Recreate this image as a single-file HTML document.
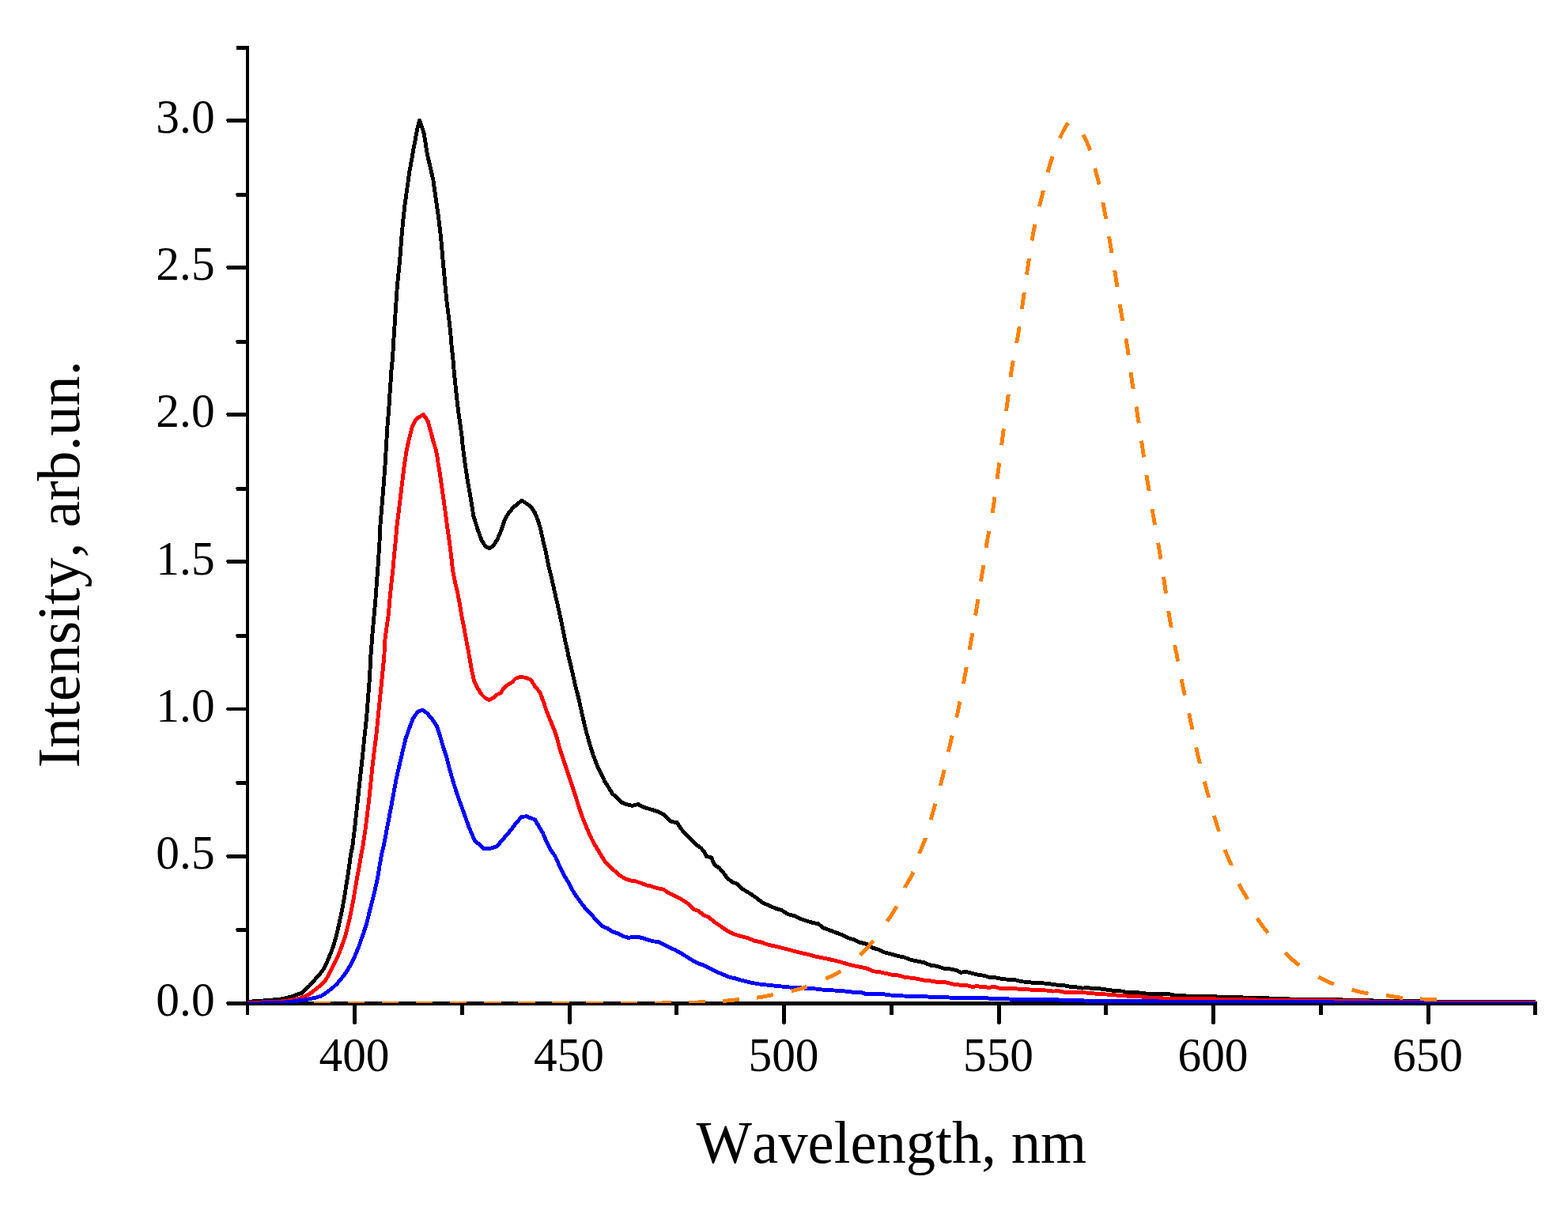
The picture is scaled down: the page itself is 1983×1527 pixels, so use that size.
<!DOCTYPE html>
<html lang="en"><head><meta charset="utf-8"><title>Intensity vs Wavelength</title>
<style>html,body{margin:0;padding:0;background:#fff;overflow:hidden}svg{display:block}text{font-family:"Liberation Serif","Times New Roman",serif;fill:#000;font-kerning:none}.tk{font-size:59.4px}.tt{font-size:74.7px}.c{fill:none;stroke-width:4.9;stroke-linejoin:round;stroke-linecap:butt}</style></head><body>
<svg width="1983" height="1527" viewBox="0 0 1983 1527" role="img" aria-label="Intensity versus wavelength spectra">
<rect width="1983" height="1527" fill="#fff"/>
<defs><clipPath id="cp"><rect x="313" y="40" width="1629" height="1229"/></clipPath></defs>
<g fill="#000" shape-rendering="crispEdges"><rect x="311" y="58" width="4" height="1226"/><rect x="311" y="1267" width="1633" height="5"/><rect x="287" y="1267" width="25" height="5"/><rect x="286" y="1268" width="1" height="2"/><rect x="287" y="1081" width="25" height="5"/><rect x="286" y="1082" width="1" height="2"/><rect x="287" y="895" width="25" height="4"/><rect x="286" y="896" width="1" height="2"/><rect x="287" y="708" width="25" height="5"/><rect x="286" y="709" width="1" height="2"/><rect x="287" y="522" width="25" height="5"/><rect x="286" y="523" width="1" height="2"/><rect x="287" y="336" width="25" height="5"/><rect x="286" y="337" width="1" height="2"/><rect x="287" y="150" width="25" height="5"/><rect x="286" y="151" width="1" height="2"/><rect x="299" y="1174" width="13" height="5"/><rect x="298" y="1175" width="1" height="2"/><rect x="299" y="988" width="13" height="5"/><rect x="298" y="989" width="1" height="2"/><rect x="299" y="802" width="13" height="5"/><rect x="298" y="803" width="1" height="2"/><rect x="299" y="616" width="13" height="5"/><rect x="298" y="617" width="1" height="2"/><rect x="299" y="430" width="13" height="5"/><rect x="298" y="431" width="1" height="2"/><rect x="299" y="244" width="13" height="5"/><rect x="298" y="245" width="1" height="2"/><rect x="299" y="58" width="13" height="5"/><rect x="446" y="1270" width="5" height="25"/><rect x="447" y="1295" width="3" height="1"/><rect x="582" y="1270" width="5" height="14"/><rect x="718" y="1270" width="5" height="25"/><rect x="719" y="1295" width="3" height="1"/><rect x="853" y="1270" width="5" height="14"/><rect x="989" y="1270" width="5" height="25"/><rect x="990" y="1295" width="3" height="1"/><rect x="1125" y="1270" width="5" height="14"/><rect x="1261" y="1270" width="5" height="25"/><rect x="1262" y="1295" width="3" height="1"/><rect x="1396" y="1270" width="5" height="14"/><rect x="1532" y="1270" width="5" height="25"/><rect x="1533" y="1295" width="3" height="1"/><rect x="1668" y="1270" width="5" height="14"/><rect x="1804" y="1270" width="5" height="25"/><rect x="1805" y="1295" width="3" height="1"/><rect x="1939" y="1270" width="5" height="14"/></g>
<g clip-path="url(#cp)" shape-rendering="crispEdges">
<polyline class="c" stroke="#000" points="312.6,1267.4 329.7,1266.2 344.1,1265.1 354.6,1264.0 362.4,1262.5 370.3,1260.3 375.6,1258.3 381.5,1256.3 386.0,1252.4 391.3,1247.2 396.5,1241.3 401.1,1236.0 405.7,1230.8 409.6,1225.5 412.9,1219.0 415.5,1212.4 418.8,1204.6 422.1,1195.4 424.7,1186.2 427.3,1175.7 429.6,1165.2 431.9,1154.7 433.9,1144.2 435.9,1132.4 437.8,1120.6 439.8,1108.8 441.8,1094.4 443.7,1080.0 445.6,1072.1 448.6,1047.9 451.0,1025.7 453.6,1001.5 456.2,977.3 458.7,955.1 461.1,930.9 463.7,906.7 465.7,880.4 467.7,854.2 468.8,830.0 469.2,826.4 470.8,804.2 472.8,782.1 474.8,759.9 476.4,737.7 478.2,713.5 479.8,689.3 480.9,665.1 482.9,640.9 484.9,616.7 486.9,590.4 488.5,564.2 489.9,540.0 490.5,533.6 492.0,514.0 492.8,500.4 494.0,483.7 494.8,470.1 496.6,452.0 497.8,430.8 499.3,408.1 500.8,385.4 502.3,362.7 504.6,340.0 506.1,323.6 507.2,308.5 508.4,293.4 509.9,278.3 511.7,261.6 513.7,246.5 515.5,234.4 517.7,217.7 520.5,202.6 522.6,190.4 524.6,180.3 526.4,170.3 528.4,160.2 530.6,152.6 533.5,160.2 536.5,170.3 538.0,180.3 539.5,190.4 541.5,200.5 544.0,210.6 548.0,228.3 550.3,245.0 552.5,260.1 554.8,276.7 556.8,293.4 558.6,311.5 560.1,329.7 561.6,344.8 563.1,362.7 565.1,382.4 567.4,400.5 569.5,418.7 571.0,436.8 573.0,455.0 574.5,473.1 576.4,491.3 578.0,506.4 579.8,521.5 582.0,536.7 584.0,551.8 584.7,560.2 587.8,584.4 591.4,608.6 595.4,630.8 598.9,653.0 603.9,669.1 608.9,683.2 614.0,691.3 619.0,693.7 624.1,690.3 629.1,682.2 634.2,670.1 638.2,658.0 643.2,648.9 649.3,641.9 655.3,636.8 660.0,633.2 665.4,636.8 671.5,640.9 676.5,648.9 680.6,659.0 683.6,669.1 686.6,683.2 690.6,699.4 693.7,715.5 697.7,731.6 701.7,749.8 705.8,767.9 709.8,786.1 713.8,806.3 717.9,824.4 718.9,830.0 722.9,846.1 726.9,864.3 732.0,884.5 736.0,902.6 740.1,920.8 745.1,938.9 750.1,955.1 756.2,971.2 760.5,979.1 764.5,988.2 769.6,996.2 774.6,1004.3 780.7,1009.3 786.7,1015.4 792.8,1017.8 799.8,1019.4 806.9,1017.4 813.0,1020.8 819.0,1022.8 825.1,1024.5 832.1,1026.9 839.2,1030.5 844.2,1035.6 849.3,1039.6 856.3,1040.6 861.4,1048.7 867.4,1055.7 873.5,1061.8 879.5,1067.8 886.6,1072.9 890.6,1077.9 893.6,1083.4 899.7,1085.0 903.7,1094.1 909.8,1098.1 914.8,1104.1 919.9,1111.2 925.9,1115.6 932.0,1118.3 938.0,1124.3 944.1,1127.7 950.1,1131.4 957.2,1136.4 964.2,1141.9 972.3,1145.5 980.4,1149.1 988.5,1151.5 996.5,1156.6 1004.6,1158.6 1012.7,1162.6 1020.7,1165.3 1028.8,1167.7 1034.8,1168.7 1040.9,1173.7 1049.0,1176.8 1057.0,1179.8 1065.1,1182.8 1073.2,1186.8 1080.0,1188.8 1086.5,1192.0 1096.1,1194.4 1104.2,1199.3 1112.3,1201.7 1118.7,1204.9 1128.4,1207.3 1136.5,1209.8 1144.5,1211.4 1152.6,1214.6 1160.7,1216.2 1168.8,1217.8 1176.8,1221.1 1184.9,1222.3 1193.0,1225.1 1201.0,1225.9 1209.1,1227.5 1215.6,1230.4 1220.4,1229.1 1228.5,1231.1 1236.5,1233.2 1244.6,1234.3 1251.1,1236.4 1259.1,1236.9 1267.2,1238.5 1273.6,1239.1 1283.3,1239.6 1291.4,1241.7 1299.5,1242.4 1305.9,1243.3 1314.0,1243.6 1322.1,1244.1 1328.5,1244.9 1336.6,1246.1 1344.6,1246.6 1352.7,1248.2 1360.8,1248.8 1368.9,1250.1 1375.3,1249.6 1380.0,1250.3 1389.1,1250.6 1399.7,1252.1 1410.3,1253.6 1420.8,1254.1 1425.4,1255.9 1440.5,1255.9 1455.6,1257.7 1478.3,1257.7 1485.9,1259.2 1501.0,1260.0 1531.3,1260.4 1546.4,1261.5 1561.5,1261.2 1576.7,1262.3 1599.4,1262.7 1622.1,1263.8 1659.9,1264.5 1680.0,1264.5 1750.0,1266.3 1806.0,1267.1 1870.0,1267.4 1945.0,1267.5"/>
<polyline class="c" stroke="#f00" points="312.6,1268.4 329.7,1268.0 349.3,1267.5 362.4,1266.4 370.3,1264.9 378.2,1263.3 384.7,1260.9 390.0,1258.3 395.2,1255.0 400.5,1250.4 405.7,1246.5 411.0,1241.3 414.9,1234.7 418.8,1226.8 422.8,1219.0 426.7,1211.1 430.0,1203.2 433.2,1194.1 436.5,1184.9 439.1,1174.4 441.8,1163.9 444.0,1153.4 446.4,1141.6 448.3,1129.8 450.3,1118.0 452.4,1106.2 454.9,1093.1 457.0,1080.0 458.7,1072.1 461.7,1051.9 464.3,1031.7 466.7,1011.5 468.8,991.4 470.8,971.2 473.2,951.0 475.8,930.9 477.8,910.7 479.8,890.5 481.9,870.3 483.9,850.2 485.9,830.0 486.5,812.3 488.9,794.2 491.5,776.0 493.0,757.9 495.0,737.7 497.0,719.5 498.6,701.4 500.6,681.2 502.0,665.1 504.5,644.9 506.7,626.7 509.1,606.6 511.1,590.4 514.1,570.3 517.2,556.1 521.2,540.0 525.3,531.7 529.8,527.7 535.4,524.7 538.4,528.2 541.4,533.7 543.5,541.8 546.0,550.4 548.5,560.5 551.0,568.0 553.0,578.1 553.5,582.4 555.9,596.5 558.5,614.6 561.1,632.8 563.6,650.9 566.0,669.1 568.6,687.3 570.6,703.4 572.6,721.5 575.3,735.7 578.7,749.8 581.3,763.9 583.7,778.0 586.8,794.2 589.8,810.3 592.8,826.4 596.2,846.1 599.5,861.3 603.9,870.3 608.9,878.4 614.0,883.5 619.0,885.5 624.1,882.8 629.1,878.4 633.2,876.8 637.2,870.3 642.2,866.3 647.3,863.3 652.3,858.2 657.4,856.6 664.4,857.2 671.5,859.9 676.5,868.3 682.6,875.4 687.6,888.5 691.6,900.6 695.7,910.7 700.7,922.8 704.8,934.9 707.8,947.0 711.8,959.1 715.9,971.2 719.9,983.3 723.9,995.4 728.0,1007.5 731.3,1018.4 735.3,1030.5 739.3,1040.6 743.4,1050.7 748.4,1061.8 753.5,1070.9 759.5,1080.9 764.5,1089.0 770.6,1096.1 777.7,1102.1 784.7,1108.2 791.8,1112.2 798.8,1114.2 804.9,1115.2 810.9,1117.3 817.0,1119.7 824.1,1121.3 831.1,1123.7 839.2,1125.3 845.2,1129.4 853.3,1133.4 861.4,1137.4 870.4,1143.5 877.5,1150.5 883.6,1152.6 889.6,1157.6 896.7,1160.6 903.7,1166.7 909.8,1170.7 916.8,1175.7 923.9,1179.8 930.0,1182.4 938.0,1184.8 946.1,1186.8 954.2,1190.3 962.2,1191.9 972.3,1195.5 982.4,1197.5 990.5,1199.6 998.5,1201.6 1006.6,1204.0 1014.7,1206.0 1022.7,1207.6 1030.8,1210.0 1038.9,1211.7 1046.9,1213.1 1055.0,1215.1 1063.1,1217.1 1071.2,1219.5 1080.0,1221.9 1088.1,1223.5 1096.1,1225.1 1104.2,1228.8 1112.3,1229.6 1120.3,1231.5 1128.4,1233.2 1136.5,1234.0 1144.5,1236.4 1152.6,1237.2 1160.7,1238.5 1168.8,1240.1 1176.8,1240.9 1184.9,1242.4 1189.7,1242.8 1196.2,1242.8 1205.9,1245.3 1213.9,1246.1 1222.0,1246.6 1230.1,1248.5 1234.9,1247.7 1243.0,1248.5 1251.1,1249.3 1257.5,1248.2 1264.0,1250.4 1273.6,1250.6 1283.3,1250.6 1291.4,1251.7 1299.5,1251.7 1307.5,1252.5 1315.6,1252.8 1323.7,1253.0 1331.7,1254.1 1338.2,1253.7 1346.3,1255.3 1354.3,1255.4 1362.4,1255.7 1370.5,1255.7 1378.5,1256.6 1395.1,1257.7 1410.3,1258.9 1425.4,1260.1 1440.5,1260.7 1455.6,1262.4 1478.3,1263.2 1501.0,1263.5 1531.3,1263.8 1561.5,1264.5 1591.8,1265.0 1622.1,1265.4 1680.0,1265.7 1750.0,1267.4 1806.0,1268.0 1870.0,1268.4 1945.0,1268.5"/>
<polyline class="c" stroke="#00f" points="312.6,1269.5 336.2,1268.8 362.4,1267.9 375.6,1266.2 384.7,1265.1 392.6,1263.6 399.2,1262.2 405.7,1260.3 411.0,1257.0 416.2,1253.1 421.4,1249.1 426.7,1243.9 431.3,1238.6 435.9,1232.7 439.8,1226.8 443.7,1220.3 447.0,1213.7 450.3,1205.9 453.6,1198.0 456.8,1188.8 460.1,1179.6 463.4,1169.2 466.0,1158.7 468.6,1148.2 471.3,1137.7 473.9,1127.2 476.3,1116.7 478.5,1104.9 480.4,1093.1 482.8,1080.0 486.1,1066.0 489.1,1049.9 492.2,1033.7 495.2,1017.6 498.2,1001.5 501.2,985.3 505.3,967.2 509.1,951.0 512.9,934.9 517.8,920.8 522.4,908.7 528.3,900.6 534.3,898.0 540.4,902.6 546.4,909.7 552.5,918.8 556.5,930.9 560.5,945.0 564.6,957.1 568.6,973.2 572.6,987.3 577.7,1003.5 582.7,1017.6 587.8,1031.7 592.8,1045.8 598.9,1060.0 600.9,1064.0 606.9,1069.0 612.0,1073.7 619.0,1073.5 628.1,1071.0 634.2,1064.0 640.2,1056.9 646.3,1049.9 652.3,1041.8 659.4,1033.7 665.4,1032.7 670.5,1034.7 676.5,1036.8 681.6,1045.8 686.6,1053.9 691.6,1066.0 695.7,1074.1 702.7,1084.2 707.8,1096.3 712.8,1106.3 718.9,1116.4 722.2,1123.3 727.2,1131.4 732.3,1138.4 737.3,1145.5 742.4,1151.5 748.4,1157.6 754.5,1164.7 761.5,1171.7 768.6,1174.7 774.6,1178.8 780.7,1180.8 787.7,1184.2 794.8,1186.4 800.9,1185.4 806.9,1185.4 813.0,1186.8 819.0,1188.9 826.1,1190.9 832.1,1191.5 839.2,1194.9 845.2,1197.9 853.3,1201.6 861.4,1206.0 869.4,1211.0 877.5,1216.1 883.6,1219.1 889.6,1221.1 897.7,1225.2 905.7,1229.2 913.8,1232.6 921.9,1235.9 930.0,1237.9 938.0,1240.3 950.1,1243.3 962.2,1245.3 972.3,1246.3 982.4,1247.4 992.5,1248.4 1002.6,1249.4 1014.7,1250.0 1026.8,1250.4 1038.9,1252.0 1051.0,1252.8 1063.1,1253.4 1075.2,1254.8 1080.0,1255.4 1089.7,1255.7 1094.5,1257.4 1104.2,1257.4 1117.1,1257.7 1122.0,1258.7 1130.0,1259.3 1144.5,1260.1 1155.8,1260.1 1170.4,1260.6 1176.8,1261.4 1193.0,1261.4 1202.6,1262.2 1225.2,1262.5 1247.8,1262.7 1252.7,1263.5 1273.6,1263.8 1283.3,1264.6 1305.9,1264.6 1338.2,1264.9 1347.9,1265.8 1370.5,1265.9 1380.2,1266.6 1500.0,1267.1 1680.0,1267.9 1750.0,1268.5 1806.0,1268.9 1870.0,1269.3 1945.0,1269.5"/>
<path class="c" stroke="#ff8000" d="M396.5 1269.3 L396.6 1269.3 L397.6 1269.3 L398.6 1269.3 L399.6 1269.3 L400.6 1269.3 L401.6 1269.3 L402.6 1269.3 L403.6 1269.3 L404.6 1269.3 L405.6 1269.3 L406.6 1269.3 L407.6 1269.3 L408.6 1269.3 L409.6 1269.3 L410.6 1269.3 L411.6 1269.3 L412.6 1269.3 L413.6 1269.3 L414.6 1269.3 L415.6 1269.3 L416.6 1269.3 L417.6 1269.3 L418.0 1269.3 M439.6 1269.3 L440.6 1269.3 L441.6 1269.3 L442.6 1269.3 L443.6 1269.3 L444.6 1269.3 L445.6 1269.3 L446.6 1269.3 L447.6 1269.3 L448.6 1269.3 L449.6 1269.3 L450.6 1269.3 L451.6 1269.3 L452.6 1269.3 L453.6 1269.3 L454.6 1269.3 L455.6 1269.3 L456.6 1269.3 L457.6 1269.3 L458.6 1269.3 L459.6 1269.3 L460.6 1269.3 L461.1 1269.3 M482.7 1269.3 L483.6 1269.3 L484.6 1269.3 L485.6 1269.3 L486.6 1269.3 L487.6 1269.3 L488.6 1269.3 L489.6 1269.3 L490.6 1269.3 L491.6 1269.3 L492.6 1269.3 L493.6 1269.3 L494.6 1269.3 L495.6 1269.3 L496.6 1269.3 L497.6 1269.3 L498.6 1269.3 L499.6 1269.3 L500.6 1269.3 L501.6 1269.3 L502.6 1269.3 L503.6 1269.3 L504.2 1269.3 M525.8 1269.3 L526.6 1269.3 L527.6 1269.3 L528.6 1269.3 L529.6 1269.3 L530.6 1269.3 L531.6 1269.3 L532.6 1269.3 L533.6 1269.3 L534.6 1269.3 L535.6 1269.3 L536.6 1269.3 L537.6 1269.3 L538.6 1269.3 L539.6 1269.3 L540.6 1269.3 L541.6 1269.3 L542.6 1269.3 L543.6 1269.3 L544.6 1269.3 L545.6 1269.3 L546.6 1269.3 L547.3 1269.3 M568.9 1269.3 L569.6 1269.3 L570.6 1269.3 L571.6 1269.3 L572.6 1269.3 L573.6 1269.3 L574.6 1269.3 L575.6 1269.3 L576.6 1269.3 L577.6 1269.3 L578.6 1269.3 L579.6 1269.3 L580.6 1269.3 L581.6 1269.3 L582.6 1269.3 L583.6 1269.3 L584.6 1269.3 L585.6 1269.3 L586.6 1269.3 L587.6 1269.3 L588.6 1269.3 L589.6 1269.3 L590.4 1269.3 M612.0 1269.3 L612.6 1269.3 L613.6 1269.3 L614.6 1269.3 L615.6 1269.3 L616.6 1269.3 L617.6 1269.3 L618.6 1269.3 L619.6 1269.3 L620.6 1269.3 L621.6 1269.3 L622.6 1269.3 L623.6 1269.3 L624.6 1269.3 L625.6 1269.3 L626.6 1269.3 L627.6 1269.3 L628.6 1269.3 L629.6 1269.3 L630.6 1269.3 L631.6 1269.3 L632.6 1269.3 L633.5 1269.3 M655.1 1269.3 L655.6 1269.3 L656.6 1269.3 L657.6 1269.3 L658.6 1269.3 L659.6 1269.3 L660.6 1269.3 L661.6 1269.3 L662.6 1269.3 L663.6 1269.3 L664.6 1269.3 L665.6 1269.3 L666.6 1269.3 L667.6 1269.3 L668.6 1269.3 L669.6 1269.3 L670.6 1269.3 L671.6 1269.3 L672.6 1269.3 L673.6 1269.3 L674.6 1269.3 L675.6 1269.3 L676.6 1269.3 L676.6 1269.3 M698.3 1269.3 L698.6 1269.3 L699.6 1269.3 L700.6 1269.3 L701.6 1269.3 L702.6 1269.3 L703.6 1269.3 L704.6 1269.3 L705.6 1269.3 L706.6 1269.3 L707.6 1269.3 L708.6 1269.3 L709.6 1269.3 L710.6 1269.3 L711.6 1269.3 L712.6 1269.3 L713.6 1269.3 L714.6 1269.3 L715.6 1269.3 L716.6 1269.3 L717.6 1269.3 L718.6 1269.3 L719.6 1269.3 L719.8 1269.3 M741.4 1269.3 L741.6 1269.3 L742.6 1269.3 L743.6 1269.3 L744.6 1269.3 L745.6 1269.3 L746.6 1269.3 L747.6 1269.3 L748.6 1269.3 L749.6 1269.3 L750.6 1269.3 L751.6 1269.3 L752.6 1269.3 L753.6 1269.2 L754.6 1269.2 L755.6 1269.2 L756.6 1269.2 L757.6 1269.2 L758.6 1269.2 L759.6 1269.2 L760.6 1269.2 L761.6 1269.2 L762.6 1269.2 L762.9 1269.2 M784.5 1269.2 L784.6 1269.2 L785.6 1269.2 L786.6 1269.2 L787.6 1269.2 L788.6 1269.2 L789.6 1269.2 L790.6 1269.2 L791.6 1269.1 L792.6 1269.1 L793.6 1269.1 L794.6 1269.1 L795.6 1269.1 L796.6 1269.1 L797.6 1269.1 L798.6 1269.1 L799.6 1269.1 L800.6 1269.1 L801.6 1269.1 L802.6 1269.1 L803.6 1269.1 L804.6 1269.1 L805.6 1269.1 L806.0 1269.1 M827.6 1269.0 L827.6 1269.0 L828.6 1269.0 L829.6 1269.0 L830.6 1269.0 L831.6 1269.0 L832.6 1269.0 L833.6 1269.0 L834.6 1269.0 L835.6 1269.0 L836.6 1269.0 L837.6 1268.9 L838.6 1268.9 L839.6 1268.9 L840.6 1268.9 L841.6 1268.9 L842.6 1268.9 L843.6 1268.9 L844.6 1268.9 L845.6 1268.9 L846.6 1268.9 L847.6 1268.8 L848.6 1268.8 L849.0 1268.8 M870.7 1268.4 L871.6 1268.4 L872.6 1268.4 L873.6 1268.3 L874.6 1268.3 L875.6 1268.3 L876.6 1268.2 L877.6 1268.2 L878.6 1268.2 L879.6 1268.1 L880.6 1268.1 L881.6 1268.0 L882.6 1268.0 L883.6 1267.9 L884.6 1267.9 L885.6 1267.8 L886.6 1267.8 L887.6 1267.7 L888.6 1267.7 L889.6 1267.6 L890.6 1267.6 L891.6 1267.5 L892.1 1267.5 M913.9 1266.5 L914.5 1266.4 L915.5 1266.3 L916.5 1266.3 L917.5 1266.2 L918.5 1266.1 L919.5 1266.0 L920.5 1265.9 L921.5 1265.8 L922.5 1265.7 L923.5 1265.6 L924.5 1265.5 L925.5 1265.4 L926.5 1265.3 L927.5 1265.2 L928.5 1265.1 L929.5 1265.0 L930.5 1264.9 L931.5 1264.8 L932.5 1264.7 L933.5 1264.6 L934.5 1264.5 L935.0 1264.4 M957.2 1262.1 L957.3 1262.1 L958.3 1262.0 L959.3 1261.8 L960.3 1261.7 L961.3 1261.5 L962.3 1261.4 L963.3 1261.2 L964.2 1261.1 L965.2 1260.9 L966.2 1260.7 L967.2 1260.5 L968.2 1260.3 L969.2 1260.1 L970.1 1259.9 L971.1 1259.7 L972.1 1259.5 L973.1 1259.3 L974.1 1259.1 L975.1 1259.0 L976.0 1258.8 L977.0 1258.6 L977.9 1258.4 M1000.6 1253.9 L1000.6 1253.9 L1001.5 1253.7 L1002.5 1253.5 L1003.5 1253.2 L1004.4 1253.0 L1005.4 1252.7 L1006.4 1252.5 L1007.4 1252.2 L1008.3 1252.0 L1009.3 1251.7 L1010.3 1251.5 L1011.2 1251.2 L1012.2 1250.9 L1013.2 1250.7 L1014.1 1250.4 L1015.1 1250.1 L1016.0 1249.8 L1017.0 1249.5 L1017.9 1249.2 L1018.9 1248.9 L1019.8 1248.6 L1020.7 1248.3 M1044.1 1238.2 L1044.7 1238.0 L1045.6 1237.6 L1046.5 1237.1 L1047.4 1236.7 L1048.3 1236.3 L1049.2 1235.9 L1050.1 1235.5 L1051.1 1235.0 L1052.0 1234.6 L1052.9 1234.2 L1053.8 1233.7 L1054.7 1233.3 L1055.6 1232.8 L1056.5 1232.4 L1057.4 1231.9 L1058.3 1231.5 L1059.1 1231.0 L1060.0 1230.5 L1060.9 1230.0 L1061.7 1229.5 L1062.6 1229.0 L1063.3 1228.6 M1087.9 1208.4 L1088.1 1208.2 L1088.8 1207.5 L1089.5 1206.8 L1090.2 1206.1 L1090.9 1205.4 L1091.6 1204.7 L1092.3 1204.0 L1093.0 1203.2 L1093.7 1202.5 L1094.4 1201.8 L1095.1 1201.0 L1095.8 1200.3 L1096.4 1199.5 L1097.1 1198.8 L1097.8 1198.0 L1098.4 1197.3 L1099.1 1196.5 L1099.7 1195.8 L1100.4 1195.0 L1101.0 1194.2 L1101.7 1193.5 L1102.3 1192.7 L1102.9 1191.9 L1103.6 1191.2 L1104.2 1190.4 L1104.4 1190.2 M1122.0 1165.7 L1122.3 1165.2 L1122.9 1164.4 L1123.4 1163.6 L1124.0 1162.7 L1124.5 1161.9 L1125.1 1161.1 L1125.7 1160.2 L1126.2 1159.4 L1126.8 1158.5 L1127.3 1157.7 L1127.8 1156.9 L1128.4 1156.0 L1128.9 1155.2 L1129.4 1154.3 L1130.0 1153.5 L1130.5 1152.6 L1131.0 1151.7 L1131.5 1150.9 L1132.0 1150.0 L1132.5 1149.1 L1132.9 1148.3 L1133.4 1147.4 L1133.8 1146.6 M1144.4 1122.9 L1144.4 1122.8 L1144.9 1121.9 L1145.4 1121.0 L1145.9 1120.1 L1146.4 1119.2 L1146.9 1118.4 L1147.4 1117.5 L1147.9 1116.6 L1148.4 1115.8 L1148.9 1114.9 L1149.4 1114.0 L1149.9 1113.2 L1150.4 1112.3 L1150.9 1111.4 L1151.4 1110.6 L1151.9 1109.7 L1152.4 1108.8 L1152.8 1107.9 L1153.2 1107.0 L1153.7 1106.1 L1154.1 1105.2 L1154.4 1104.3 L1154.8 1103.4 L1154.9 1103.3 M1162.6 1080.0 L1162.7 1079.6 L1163.1 1078.7 L1163.4 1077.8 L1163.8 1076.8 L1164.2 1075.9 L1164.6 1075.0 L1164.9 1074.1 L1165.3 1073.1 L1165.7 1072.2 L1166.1 1071.3 L1166.5 1070.4 L1166.9 1069.5 L1167.3 1068.5 L1167.7 1067.6 L1168.1 1066.7 L1168.4 1065.8 L1168.8 1064.8 L1169.2 1063.9 L1169.5 1063.0 L1169.9 1062.0 L1170.2 1061.1 L1170.5 1060.2 L1170.5 1060.1 M1177.2 1037.1 L1177.5 1036.1 L1177.7 1035.2 L1178.0 1034.2 L1178.3 1033.2 L1178.5 1032.3 L1178.8 1031.3 L1179.1 1030.4 L1179.3 1029.4 L1179.6 1028.4 L1179.9 1027.5 L1180.1 1026.5 L1180.4 1025.5 L1180.7 1024.6 L1181.0 1023.6 L1181.2 1022.7 L1181.5 1021.7 L1181.8 1020.7 L1182.1 1019.8 L1182.3 1018.8 L1182.6 1017.8 L1182.9 1016.9 M1189.3 994.0 L1189.3 993.8 L1189.6 992.8 L1189.9 991.8 L1190.1 990.9 L1190.4 989.9 L1190.6 988.9 L1190.9 988.0 L1191.1 987.0 L1191.4 986.0 L1191.6 985.1 L1191.8 984.1 L1192.1 983.1 L1192.3 982.1 L1192.6 981.2 L1192.8 980.2 L1193.0 979.2 L1193.3 978.3 L1193.5 977.3 L1193.7 976.3 L1193.9 975.3 L1194.2 974.4 L1194.3 973.7 M1199.4 951.0 L1199.4 950.9 L1199.7 950.0 L1199.9 949.0 L1200.1 948.0 L1200.3 947.0 L1200.5 946.1 L1200.8 945.1 L1201.0 944.1 L1201.2 943.1 L1201.4 942.2 L1201.7 941.2 L1201.9 940.2 L1202.1 939.2 L1202.3 938.3 L1202.6 937.3 L1202.8 936.3 L1203.0 935.4 L1203.3 934.4 L1203.5 933.4 L1203.7 932.4 L1204.0 931.5 L1204.2 930.6 M1209.6 907.8 L1209.8 907.1 L1210.0 906.2 L1210.2 905.2 L1210.4 904.2 L1210.6 903.2 L1210.9 902.3 L1211.1 901.3 L1211.3 900.3 L1211.5 899.3 L1211.7 898.4 L1211.9 897.4 L1212.1 896.4 L1212.3 895.4 L1212.5 894.4 L1212.7 893.5 L1212.9 892.5 L1213.1 891.5 L1213.3 890.5 L1213.5 889.5 L1213.7 888.6 L1213.9 887.6 L1214.0 887.4 M1218.4 864.8 L1218.5 864.0 L1218.7 863.0 L1218.9 862.1 L1219.1 861.1 L1219.3 860.1 L1219.5 859.1 L1219.6 858.1 L1219.8 857.1 L1220.0 856.2 L1220.2 855.2 L1220.4 854.2 L1220.6 853.2 L1220.7 852.2 L1220.9 851.2 L1221.1 850.3 L1221.3 849.3 L1221.5 848.3 L1221.6 847.3 L1221.8 846.3 L1222.0 845.3 L1222.2 844.4 L1222.2 844.2 M1226.2 821.8 L1226.2 821.7 L1226.4 820.7 L1226.6 819.8 L1226.7 818.8 L1226.9 817.8 L1227.1 816.8 L1227.3 815.8 L1227.4 814.8 L1227.6 813.8 L1227.8 812.9 L1227.9 811.9 L1228.1 810.9 L1228.3 809.9 L1228.5 808.9 L1228.6 807.9 L1228.8 806.9 L1229.0 806.0 L1229.1 805.0 L1229.3 804.0 L1229.5 803.0 L1229.7 802.0 L1229.8 801.1 M1233.6 778.7 L1233.7 778.4 L1233.8 777.4 L1234.0 776.4 L1234.2 775.4 L1234.3 774.4 L1234.5 773.4 L1234.7 772.4 L1234.8 771.4 L1235.0 770.5 L1235.1 769.5 L1235.3 768.5 L1235.5 767.5 L1235.6 766.5 L1235.8 765.5 L1235.9 764.5 L1236.1 763.6 L1236.3 762.6 L1236.4 761.6 L1236.6 760.6 L1236.7 759.6 L1236.9 758.6 L1237.0 758.0 M1240.5 735.6 L1240.6 734.9 L1240.8 733.9 L1240.9 732.9 L1241.1 731.9 L1241.2 731.0 L1241.4 730.0 L1241.5 729.0 L1241.7 728.0 L1241.8 727.0 L1242.0 726.0 L1242.2 725.0 L1242.3 724.0 L1242.5 723.1 L1242.6 722.1 L1242.8 721.1 L1242.9 720.1 L1243.1 719.1 L1243.2 718.1 L1243.4 717.1 L1243.5 716.1 L1243.7 715.1 L1243.7 714.8 M1247.2 692.5 L1247.2 692.4 L1247.4 691.4 L1247.5 690.4 L1247.7 689.5 L1247.8 688.5 L1248.0 687.5 L1248.2 686.5 L1248.3 685.5 L1248.5 684.5 L1248.7 683.5 L1248.8 682.5 L1249.0 681.6 L1249.1 680.6 L1249.3 679.6 L1249.5 678.6 L1249.7 677.6 L1249.8 676.6 L1250.0 675.6 L1250.2 674.7 L1250.4 673.7 L1250.5 672.7 L1250.7 671.8 M1254.9 649.3 L1254.9 649.1 L1255.1 648.1 L1255.2 647.1 L1255.4 646.1 L1255.6 645.1 L1255.7 644.2 L1255.9 643.2 L1256.1 642.2 L1256.2 641.2 L1256.4 640.2 L1256.5 639.2 L1256.7 638.2 L1256.8 637.3 L1257.0 636.3 L1257.1 635.3 L1257.3 634.3 L1257.4 633.3 L1257.6 632.3 L1257.7 631.3 L1257.8 630.3 L1258.0 629.3 L1258.1 628.6 M1261.0 606.3 L1261.1 605.5 L1261.3 604.6 L1261.4 603.6 L1261.5 602.6 L1261.7 601.6 L1261.8 600.6 L1261.9 599.6 L1262.0 598.6 L1262.2 597.6 L1262.3 596.6 L1262.4 595.6 L1262.6 594.6 L1262.7 593.6 L1262.8 592.7 L1263.0 591.7 L1263.1 590.7 L1263.2 589.7 L1263.4 588.7 L1263.5 587.7 L1263.6 586.7 L1263.7 585.7 L1263.8 585.5 M1266.6 563.2 L1266.7 562.9 L1266.8 561.9 L1266.9 560.9 L1267.1 559.9 L1267.2 558.9 L1267.3 557.9 L1267.5 557.0 L1267.6 556.0 L1267.7 555.0 L1267.9 554.0 L1268.0 553.0 L1268.1 552.0 L1268.3 551.0 L1268.4 550.0 L1268.5 549.0 L1268.7 548.0 L1268.8 547.0 L1268.9 546.0 L1269.1 545.1 L1269.2 544.1 L1269.3 543.1 L1269.4 542.4 M1272.5 520.1 L1272.6 519.3 L1272.7 518.3 L1272.9 517.3 L1273.0 516.3 L1273.1 515.3 L1273.3 514.3 L1273.4 513.4 L1273.5 512.4 L1273.7 511.4 L1273.8 510.4 L1273.9 509.4 L1274.1 508.4 L1274.2 507.4 L1274.3 506.4 L1274.4 505.4 L1274.6 504.4 L1274.7 503.4 L1274.8 502.4 L1275.0 501.5 L1275.1 500.5 L1275.2 499.5 L1275.2 499.2 M1278.1 477.0 L1278.1 476.6 L1278.2 475.7 L1278.4 474.7 L1278.5 473.7 L1278.7 472.7 L1278.8 471.7 L1278.9 470.7 L1279.1 469.7 L1279.2 468.7 L1279.4 467.7 L1279.5 466.8 L1279.7 465.8 L1279.8 464.8 L1280.0 463.8 L1280.2 462.8 L1280.3 461.8 L1280.5 460.8 L1280.7 459.9 L1280.9 458.9 L1281.0 457.9 L1281.2 456.9 L1281.3 456.3 M1285.8 433.8 L1285.8 433.3 L1286.0 432.4 L1286.2 431.4 L1286.4 430.4 L1286.6 429.4 L1286.7 428.4 L1286.9 427.4 L1287.1 426.5 L1287.3 425.5 L1287.4 424.5 L1287.6 423.5 L1287.7 422.5 L1287.9 421.5 L1288.1 420.5 L1288.2 419.5 L1288.4 418.6 L1288.5 417.6 L1288.7 416.6 L1288.8 415.6 L1289.0 414.6 L1289.1 413.6 L1289.2 413.1 M1292.4 390.8 L1292.5 389.9 L1292.6 388.9 L1292.8 387.9 L1292.9 386.9 L1293.0 385.9 L1293.2 384.9 L1293.3 383.9 L1293.5 382.9 L1293.6 381.9 L1293.7 380.9 L1293.9 380.0 L1294.0 379.0 L1294.2 378.0 L1294.3 377.0 L1294.4 376.0 L1294.6 375.0 L1294.7 374.0 L1294.9 373.0 L1295.0 372.0 L1295.1 371.0 L1295.3 370.0 L1295.3 369.9 M1298.4 347.7 L1298.5 347.3 L1298.6 346.3 L1298.7 345.3 L1298.9 344.3 L1299.0 343.3 L1299.2 342.3 L1299.3 341.3 L1299.5 340.3 L1299.6 339.4 L1299.8 338.4 L1299.9 337.4 L1300.1 336.4 L1300.2 335.4 L1300.4 334.4 L1300.5 333.4 L1300.7 332.4 L1300.8 331.4 L1300.9 330.5 L1301.1 329.5 L1301.2 328.5 L1301.4 327.5 L1301.5 326.9 M1305.0 304.5 L1305.1 303.8 L1305.3 302.8 L1305.5 301.8 L1305.6 300.8 L1305.8 299.8 L1306.0 298.8 L1306.2 297.9 L1306.4 296.9 L1306.5 295.9 L1306.7 294.9 L1306.9 293.9 L1307.1 293.0 L1307.3 292.0 L1307.5 291.0 L1307.7 290.0 L1307.9 289.0 L1308.1 288.1 L1308.3 287.1 L1308.5 286.1 L1308.7 285.1 L1308.9 284.2 L1309.0 283.9 M1314.4 261.2 L1314.5 260.8 L1314.8 259.8 L1315.0 258.9 L1315.3 257.9 L1315.5 256.9 L1315.8 256.0 L1316.0 255.0 L1316.2 254.0 L1316.5 253.0 L1316.7 252.1 L1317.0 251.1 L1317.2 250.1 L1317.4 249.2 L1317.7 248.2 L1317.9 247.2 L1318.1 246.2 L1318.4 245.3 L1318.6 244.3 L1318.8 243.3 L1319.1 242.3 L1319.3 241.4 L1319.4 240.9 M1325.1 218.1 L1325.3 217.1 L1325.6 216.1 L1325.8 215.2 L1326.1 214.2 L1326.4 213.2 L1326.6 212.3 L1326.9 211.3 L1327.2 210.4 L1327.5 209.4 L1327.7 208.4 L1328.0 207.5 L1328.3 206.5 L1328.6 205.6 L1328.9 204.6 L1329.2 203.7 L1329.5 202.7 L1329.8 201.8 L1330.2 200.8 L1330.5 199.9 L1330.8 198.9 L1331.1 198.0 M1340.4 174.6 L1340.8 173.8 L1341.2 172.9 L1341.6 172.0 L1342.0 171.1 L1342.4 170.2 L1342.9 169.3 L1343.3 168.4 L1343.8 167.5 L1344.2 166.6 L1344.7 165.7 L1345.2 164.8 L1345.7 164.0 L1346.2 163.1 L1346.7 162.2 L1347.2 161.4 L1347.7 160.5 L1348.2 159.6 L1348.7 158.7 L1349.3 157.8 L1349.9 157.0 L1350.5 156.2 L1351.1 155.6 M1370.1 170.5 L1370.4 171.2 L1370.8 172.1 L1371.3 173.0 L1371.7 173.9 L1372.2 174.8 L1372.6 175.7 L1373.0 176.6 L1373.4 177.5 L1373.9 178.4 L1374.3 179.3 L1374.7 180.2 L1375.1 181.2 L1375.5 182.1 L1375.9 183.0 L1376.3 183.9 L1376.6 184.8 L1377.0 185.8 L1377.4 186.7 L1377.7 187.6 L1378.0 188.6 L1378.3 189.5 L1378.6 190.2 M1384.7 213.1 L1384.9 213.7 L1385.1 214.6 L1385.4 215.6 L1385.7 216.5 L1385.9 217.5 L1386.2 218.5 L1386.5 219.4 L1386.7 220.4 L1387.0 221.4 L1387.3 222.3 L1387.5 223.3 L1387.8 224.3 L1388.1 225.2 L1388.3 226.2 L1388.6 227.2 L1388.8 228.1 L1389.1 229.1 L1389.3 230.1 L1389.5 231.0 L1389.8 232.0 L1390.0 233.0 L1390.1 233.4 M1394.8 256.0 L1394.9 256.5 L1395.1 257.5 L1395.3 258.4 L1395.5 259.4 L1395.6 260.4 L1395.8 261.4 L1396.0 262.4 L1396.2 263.4 L1396.4 264.3 L1396.6 265.3 L1396.8 266.3 L1396.9 267.3 L1397.1 268.3 L1397.3 269.3 L1397.5 270.2 L1397.7 271.2 L1397.8 272.2 L1398.0 273.2 L1398.2 274.2 L1398.4 275.2 L1398.6 276.1 L1398.6 276.6 M1402.5 299.1 L1402.6 299.8 L1402.8 300.8 L1403.0 301.8 L1403.1 302.8 L1403.3 303.7 L1403.5 304.7 L1403.6 305.7 L1403.8 306.7 L1404.0 307.7 L1404.1 308.7 L1404.3 309.7 L1404.5 310.6 L1404.6 311.6 L1404.8 312.6 L1405.0 313.6 L1405.1 314.6 L1405.3 315.6 L1405.5 316.6 L1405.6 317.5 L1405.8 318.5 L1406.0 319.5 L1406.0 319.8 M1409.7 342.1 L1409.7 342.2 L1409.9 343.2 L1410.0 344.2 L1410.2 345.2 L1410.4 346.2 L1410.5 347.1 L1410.7 348.1 L1410.8 349.1 L1411.0 350.1 L1411.1 351.1 L1411.3 352.1 L1411.5 353.1 L1411.6 354.1 L1411.8 355.0 L1411.9 356.0 L1412.1 357.0 L1412.2 358.0 L1412.4 359.0 L1412.5 360.0 L1412.7 361.0 L1412.8 362.0 L1412.9 362.9 M1416.3 385.2 L1416.3 385.7 L1416.5 386.7 L1416.6 387.7 L1416.8 388.7 L1416.9 389.7 L1417.1 390.7 L1417.3 391.6 L1417.4 392.6 L1417.6 393.6 L1417.7 394.6 L1417.9 395.6 L1418.1 396.6 L1418.2 397.6 L1418.4 398.5 L1418.6 399.5 L1418.8 400.5 L1418.9 401.5 L1419.1 402.5 L1419.3 403.5 L1419.5 404.4 L1419.7 405.4 L1419.7 405.9 M1423.9 428.3 L1424.1 429.0 L1424.2 430.0 L1424.4 431.0 L1424.6 432.0 L1424.7 433.0 L1424.9 434.0 L1425.1 434.9 L1425.2 435.9 L1425.4 436.9 L1425.5 437.9 L1425.7 438.9 L1425.8 439.9 L1426.0 440.9 L1426.1 441.9 L1426.3 442.8 L1426.4 443.8 L1426.6 444.8 L1426.7 445.8 L1426.8 446.8 L1427.0 447.8 L1427.1 448.8 L1427.2 449.1 M1430.1 471.3 L1430.1 471.6 L1430.2 472.6 L1430.4 473.6 L1430.5 474.6 L1430.7 475.6 L1430.8 476.5 L1430.9 477.5 L1431.1 478.5 L1431.2 479.5 L1431.4 480.5 L1431.5 481.5 L1431.7 482.5 L1431.8 483.5 L1432.0 484.5 L1432.1 485.4 L1432.3 486.4 L1432.4 487.4 L1432.6 488.4 L1432.7 489.4 L1432.9 490.4 L1433.1 491.4 L1433.2 492.1 M1436.9 514.5 L1437.0 515.0 L1437.2 516.0 L1437.3 517.0 L1437.5 518.0 L1437.6 519.0 L1437.8 520.0 L1438.0 521.0 L1438.1 522.0 L1438.3 522.9 L1438.4 523.9 L1438.6 524.9 L1438.7 525.9 L1438.9 526.9 L1439.0 527.9 L1439.2 528.9 L1439.4 529.9 L1439.5 530.9 L1439.7 531.8 L1439.8 532.8 L1440.0 533.8 L1440.1 534.8 L1440.2 535.2 M1443.5 557.5 L1443.5 557.6 L1443.6 558.5 L1443.8 559.5 L1443.9 560.5 L1444.1 561.5 L1444.2 562.5 L1444.4 563.5 L1444.5 564.5 L1444.7 565.5 L1444.8 566.5 L1445.0 567.4 L1445.1 568.4 L1445.3 569.4 L1445.4 570.4 L1445.6 571.4 L1445.7 572.4 L1445.8 573.4 L1446.0 574.4 L1446.1 575.4 L1446.3 576.4 L1446.4 577.3 L1446.6 578.3 M1449.9 600.6 L1449.9 601.1 L1450.1 602.1 L1450.2 603.1 L1450.4 604.1 L1450.5 605.0 L1450.7 606.0 L1450.8 607.0 L1451.0 608.0 L1451.1 609.0 L1451.3 610.0 L1451.5 611.0 L1451.6 612.0 L1451.8 612.9 L1451.9 613.9 L1452.1 614.9 L1452.2 615.9 L1452.4 616.9 L1452.6 617.9 L1452.7 618.9 L1452.9 619.8 L1453.1 620.8 L1453.1 621.4 M1457.0 643.8 L1457.1 644.5 L1457.3 645.5 L1457.5 646.5 L1457.6 647.4 L1457.8 648.4 L1458.0 649.4 L1458.1 650.4 L1458.3 651.4 L1458.5 652.4 L1458.7 653.4 L1458.8 654.3 L1459.0 655.3 L1459.2 656.3 L1459.3 657.3 L1459.5 658.3 L1459.7 659.3 L1459.9 660.3 L1460.0 661.2 L1460.2 662.2 L1460.4 663.2 L1460.6 664.2 L1460.6 664.4 M1464.6 686.9 L1464.8 687.8 L1465.0 688.8 L1465.1 689.8 L1465.3 690.8 L1465.5 691.8 L1465.7 692.7 L1465.8 693.7 L1466.0 694.7 L1466.2 695.7 L1466.3 696.7 L1466.5 697.7 L1466.6 698.7 L1466.8 699.6 L1467.0 700.6 L1467.1 701.6 L1467.3 702.6 L1467.4 703.6 L1467.6 704.6 L1467.8 705.6 L1467.9 706.6 L1468.1 707.5 L1468.1 707.5 M1471.5 729.9 L1471.6 730.3 L1471.7 731.3 L1471.9 732.3 L1472.0 733.2 L1472.2 734.2 L1472.3 735.2 L1472.5 736.2 L1472.6 737.2 L1472.8 738.2 L1472.9 739.2 L1473.1 740.2 L1473.2 741.2 L1473.4 742.1 L1473.5 743.1 L1473.7 744.1 L1473.8 745.1 L1473.9 746.1 L1474.1 747.1 L1474.2 748.1 L1474.4 749.1 L1474.5 750.1 L1474.6 750.7 M1477.8 773.0 L1477.9 773.8 L1478.0 774.8 L1478.2 775.8 L1478.3 776.8 L1478.5 777.8 L1478.6 778.8 L1478.8 779.8 L1479.0 780.7 L1479.1 781.7 L1479.3 782.7 L1479.5 783.7 L1479.6 784.7 L1479.8 785.7 L1480.0 786.7 L1480.1 787.6 L1480.3 788.6 L1480.5 789.6 L1480.7 790.6 L1480.9 791.6 L1481.0 792.6 L1481.2 793.5 L1481.2 793.6 M1485.7 816.2 L1485.9 817.1 L1486.1 818.1 L1486.3 819.0 L1486.5 820.0 L1486.7 821.0 L1486.9 822.0 L1487.1 823.0 L1487.3 823.9 L1487.5 824.9 L1487.7 825.9 L1487.9 826.9 L1488.1 827.9 L1488.2 828.9 L1488.4 829.8 L1488.6 830.8 L1488.8 831.8 L1489.0 832.8 L1489.2 833.8 L1489.4 834.7 L1489.6 835.7 L1489.8 836.7 L1489.8 836.7 M1494.1 859.3 L1494.1 859.3 L1494.3 860.3 L1494.5 861.3 L1494.7 862.2 L1494.9 863.2 L1495.1 864.2 L1495.3 865.2 L1495.5 866.2 L1495.7 867.1 L1495.9 868.1 L1496.1 869.1 L1496.3 870.1 L1496.5 871.0 L1496.7 872.0 L1496.9 873.0 L1497.1 874.0 L1497.4 875.0 L1497.6 875.9 L1497.8 876.9 L1498.0 877.9 L1498.2 878.9 L1498.4 879.7 M1503.5 902.4 L1503.7 903.2 L1504.0 904.2 L1504.2 905.2 L1504.4 906.2 L1504.6 907.2 L1504.8 908.1 L1505.1 909.1 L1505.3 910.1 L1505.5 911.1 L1505.7 912.0 L1505.9 913.0 L1506.1 914.0 L1506.3 915.0 L1506.5 915.9 L1506.8 916.9 L1507.0 917.9 L1507.2 918.9 L1507.4 919.9 L1507.6 920.8 L1507.8 921.8 L1508.0 922.8 L1508.0 922.9 M1512.8 945.5 L1512.9 946.3 L1513.1 947.3 L1513.4 948.2 L1513.6 949.2 L1513.8 950.2 L1514.0 951.2 L1514.2 952.1 L1514.4 953.1 L1514.7 954.1 L1514.9 955.1 L1515.1 956.0 L1515.3 957.0 L1515.6 958.0 L1515.8 959.0 L1516.0 959.9 L1516.3 960.9 L1516.5 961.9 L1516.7 962.8 L1517.0 963.8 L1517.2 964.8 L1517.4 965.8 L1517.4 965.9 M1523.2 988.7 L1523.3 989.0 L1523.6 990.0 L1523.8 991.0 L1524.1 991.9 L1524.3 992.9 L1524.6 993.9 L1524.9 994.8 L1525.1 995.8 L1525.4 996.8 L1525.6 997.7 L1525.9 998.7 L1526.2 999.7 L1526.4 1000.6 L1526.7 1001.6 L1527.0 1002.6 L1527.2 1003.5 L1527.5 1004.5 L1527.8 1005.4 L1528.0 1006.4 L1528.3 1007.4 L1528.6 1008.3 L1528.7 1008.9 M1535.4 1031.8 L1535.5 1032.3 L1535.8 1033.3 L1536.1 1034.3 L1536.4 1035.2 L1536.7 1036.2 L1537.0 1037.1 L1537.3 1038.1 L1537.6 1039.0 L1537.9 1040.0 L1538.2 1041.0 L1538.5 1041.9 L1538.7 1042.9 L1539.0 1043.8 L1539.3 1044.8 L1539.6 1045.7 L1539.9 1046.7 L1540.2 1047.6 L1540.5 1048.6 L1540.8 1049.6 L1541.1 1050.5 L1541.4 1051.5 L1541.5 1051.9 M1549.2 1075.0 L1549.2 1075.2 L1549.6 1076.1 L1549.9 1077.1 L1550.3 1078.0 L1550.7 1078.9 L1551.0 1079.9 L1551.4 1080.8 L1551.8 1081.7 L1552.2 1082.6 L1552.6 1083.6 L1553.0 1084.5 L1553.4 1085.4 L1553.8 1086.3 L1554.1 1087.2 L1554.5 1088.2 L1554.9 1089.1 L1555.3 1090.0 L1555.7 1090.9 L1556.1 1091.8 L1556.5 1092.8 L1556.9 1093.7 L1557.3 1094.6 L1557.3 1094.8 M1566.8 1118.3 L1567.0 1118.7 L1567.4 1119.6 L1567.8 1120.5 L1568.3 1121.4 L1568.8 1122.3 L1569.3 1123.1 L1569.8 1124.0 L1570.3 1124.9 L1570.8 1125.7 L1571.3 1126.6 L1571.8 1127.5 L1572.3 1128.3 L1572.8 1129.2 L1573.3 1130.0 L1573.9 1130.9 L1574.4 1131.7 L1574.9 1132.6 L1575.4 1133.5 L1575.9 1134.3 L1576.4 1135.2 L1577.0 1136.1 L1577.4 1136.9 L1577.8 1137.6 M1589.9 1161.6 L1590.1 1161.9 L1590.6 1162.7 L1591.2 1163.6 L1591.7 1164.4 L1592.2 1165.2 L1592.8 1166.1 L1593.4 1166.9 L1593.9 1167.7 L1594.5 1168.5 L1595.1 1169.3 L1595.7 1170.1 L1596.3 1171.0 L1596.9 1171.8 L1597.5 1172.6 L1598.1 1173.4 L1598.7 1174.2 L1599.3 1174.9 L1600.0 1175.7 L1600.6 1176.5 L1601.2 1177.3 L1601.8 1178.1 L1602.4 1178.9 L1603.1 1179.7 L1603.6 1180.4 M1624.9 1205.2 L1625.2 1205.5 L1625.9 1206.2 L1626.6 1206.9 L1627.3 1207.6 L1628.0 1208.3 L1628.8 1209.0 L1629.5 1209.7 L1630.2 1210.3 L1631.0 1211.0 L1631.7 1211.7 L1632.5 1212.4 L1633.2 1213.0 L1634.0 1213.7 L1634.7 1214.4 L1635.5 1215.0 L1636.3 1215.7 L1637.0 1216.3 L1637.8 1217.0 L1638.6 1217.6 L1639.4 1218.2 L1640.1 1218.8 L1640.9 1219.5 L1641.7 1220.1 L1642.5 1220.7 L1643.2 1221.2 M1667.4 1235.8 L1668.1 1236.2 L1669.0 1236.7 L1669.9 1237.1 L1670.8 1237.6 L1671.7 1238.1 L1672.6 1238.5 L1673.5 1239.0 L1674.4 1239.4 L1675.3 1239.9 L1676.2 1240.3 L1677.1 1240.8 L1678.0 1241.2 L1678.9 1241.6 L1679.8 1242.0 L1680.7 1242.5 L1681.6 1242.9 L1682.5 1243.3 L1683.4 1243.7 L1684.4 1244.1 L1685.3 1244.4 L1686.2 1244.8 L1686.9 1245.1 M1710.0 1252.2 L1710.1 1252.3 L1711.0 1252.5 L1712.0 1252.8 L1713.0 1253.1 L1713.9 1253.3 L1714.9 1253.6 L1715.9 1253.8 L1716.8 1254.1 L1717.8 1254.4 L1718.8 1254.6 L1719.7 1254.9 L1720.7 1255.1 L1721.7 1255.3 L1722.7 1255.6 L1723.6 1255.8 L1724.6 1256.0 L1725.6 1256.2 L1726.6 1256.4 L1727.5 1256.6 L1728.5 1256.8 L1729.5 1257.0 L1730.5 1257.1 M1752.7 1259.5 L1753.4 1259.5 L1754.4 1259.7 L1755.3 1259.8 L1756.3 1259.9 L1757.3 1260.1 L1758.3 1260.2 L1759.3 1260.4 L1760.3 1260.5 L1761.3 1260.7 L1762.3 1260.9 L1763.3 1261.0 L1764.2 1261.2 L1765.2 1261.3 L1766.2 1261.5 L1767.2 1261.6 L1768.2 1261.8 L1769.2 1261.9 L1770.2 1262.1 L1771.2 1262.2 L1772.2 1262.3 L1773.2 1262.4 L1773.7 1262.4 M1795.6 1263.9 L1796.1 1263.9 L1797.1 1263.9 L1798.1 1264.0 L1799.1 1264.0 L1800.1 1264.0 L1801.1 1264.1 L1802.1 1264.1 L1803.1 1264.1 L1804.1 1264.1 L1805.1 1264.2 L1806.1 1264.2 L1807.1 1264.2 L1808.1 1264.2 L1809.1 1264.2 L1810.1 1264.2 L1811.1 1264.3 L1812.1 1264.3 L1813.1 1264.3 L1814.1 1264.3 L1815.1 1264.3 L1816.1 1264.3 L1817.0 1264.3"/>
</g>
<text class="tk" text-anchor="end" transform="translate(271.6 1285.0) scale(1 1.018)">0.0</text><text class="tk" text-anchor="end" transform="translate(271.6 1099.0) scale(1 1.018)">0.5</text><text class="tk" text-anchor="end" transform="translate(271.6 913.0) scale(1 1.018)">1.0</text><text class="tk" text-anchor="end" transform="translate(271.6 727.0) scale(1 1.018)">1.5</text><text class="tk" text-anchor="end" transform="translate(271.6 540.0) scale(1 1.018)">2.0</text><text class="tk" text-anchor="end" transform="translate(271.6 354.0) scale(1 1.018)">2.5</text><text class="tk" text-anchor="end" transform="translate(271.6 168.0) scale(1 1.018)">3.0</text><text class="tk" text-anchor="middle" transform="translate(448.0 1355.1) scale(1 1.018)">400</text><text class="tk" text-anchor="middle" transform="translate(719.5 1355.1) scale(1 1.018)">450</text><text class="tk" text-anchor="middle" transform="translate(991.0 1355.1) scale(1 1.018)">500</text><text class="tk" text-anchor="middle" transform="translate(1262.5 1355.1) scale(1 1.018)">550</text><text class="tk" text-anchor="middle" transform="translate(1534.0 1355.1) scale(1 1.018)">600</text><text class="tk" text-anchor="middle" transform="translate(1805.5 1355.1) scale(1 1.018)">650</text><text class="tt" transform="translate(880.5 1471.0) scale(1 1.018)">Wavelength, nm</text><text class="tt" transform="translate(100.1 971.6) rotate(-90) scale(1.018 1.03)">Intensity, arb.un.</text>
</svg></body></html>
